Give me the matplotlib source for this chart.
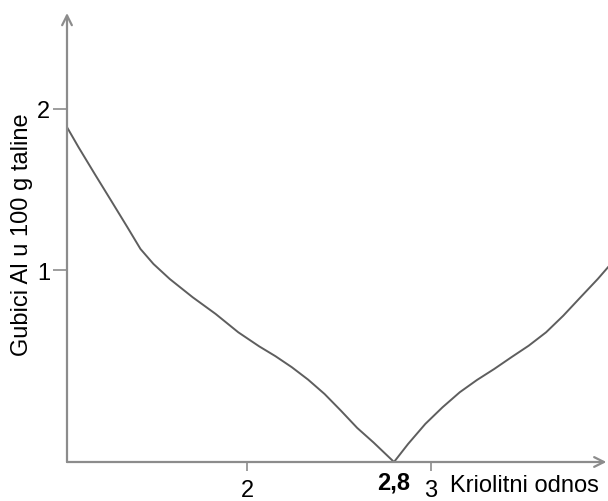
import matplotlib
matplotlib.use("Agg")
import matplotlib.pyplot as plt

plt.rcParams['font.family'] = ['Liberation Sans', 'DejaVu Sans']

# Aluminium losses vs. cryolite ratio (schematic curve)
ratio_left = [1.015, 1.078, 1.166, 1.256, 1.345, 1.416, 1.487, 1.576,
              1.701, 1.826, 1.950, 2.064, 2.153, 2.242, 2.331, 2.421,
              2.510, 2.599, 2.688, 2.8]
loss_left = [1.887, 1.763, 1.598, 1.432, 1.267, 1.133, 1.040, 0.947,
             0.834, 0.731, 0.617, 0.530, 0.469, 0.401, 0.324, 0.235,
             0.132, 0.025, -0.065, -0.186]
ratio_right = [2.8, 2.877, 2.971, 3.065, 3.159, 3.253, 3.347, 3.441,
               3.535, 3.630, 3.724, 3.818, 3.912, 3.968]
loss_right = [-0.186, -0.074, 0.050, 0.153, 0.246, 0.322, 0.390, 0.463,
              0.534, 0.617, 0.720, 0.834, 0.947, 1.020]

x_ticks = [2, 3]
x_tick_labels = ['2', '3']
y_ticks = [1, 2]
y_tick_labels = ['1', '2']
optimum_ratio = 2.8
optimum_label = '2,8'

axis_color = '#8c8c8c'
curve_color = '#5e5e5e'
fs = 17

fig = plt.figure(figsize=(6.08, 5.02), dpi=100)
ax = fig.add_axes([67 / 608, 39 / 502, 541 / 608, 449 / 502])
ax.set_xlim(1.015, 3.968)
ax.set_ylim(-0.186, 2.594)

ax.plot(ratio_left + ratio_right[1:], loss_left + loss_right[1:],
        color=curve_color, lw=1.4, solid_joinstyle='round', clip_on=True)

for s in ax.spines.values():
    s.set_visible(False)

# arrow-tipped axes
ax.annotate('', xy=(0.997, 0), xytext=(0, 0), xycoords='axes fraction',
            arrowprops=dict(arrowstyle='->,head_length=0.7,head_width=0.35',
                            color=axis_color, lw=1.6, shrinkA=0, shrinkB=0))
ax.annotate('', xy=(0, 1.0), xytext=(0, 0), xycoords='axes fraction',
            arrowprops=dict(arrowstyle='->,head_length=0.7,head_width=0.35',
                            color=axis_color, lw=1.6, shrinkA=0, shrinkB=0))

ax.set_xticks(x_ticks)
ax.set_xticklabels(x_tick_labels)
ax.set_yticks(y_ticks)
ax.set_yticklabels(y_tick_labels)
ax.tick_params(axis='x', direction='out', length=6.5, width=1.2,
               colors=axis_color, labelcolor='black', labelsize=fs, pad=6)
ax.tick_params(axis='y', direction='out', length=10, width=1.2,
               colors=axis_color, labelcolor='black', labelsize=fs, pad=2)

ax.annotate(optimum_label, xy=(optimum_ratio, -0.186), xycoords='data',
            xytext=(0, -14.5), textcoords='offset points',
            ha='center', va='center', fontsize=fs, fontweight='bold')

fig.text(450 / 608, 1 - 486 / 502, 'Kriolitni odnos', fontsize=fs,
         ha='left', va='center')
fig.text(22 / 608, 1 - 235 / 502, 'Gubici Al u 100 g taline', fontsize=fs,
         rotation=90, ha='center', va='center')

fig.savefig('out.png', dpi=100, facecolor='white')
